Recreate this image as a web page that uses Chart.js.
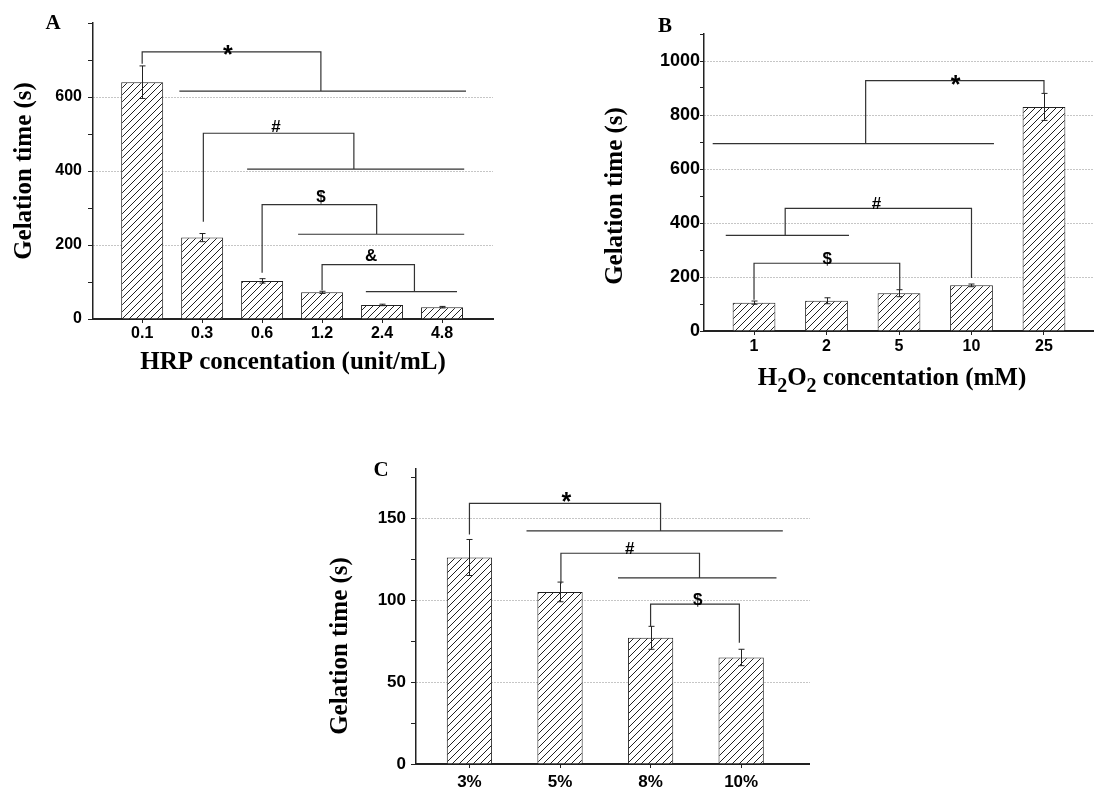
<!DOCTYPE html>
<html>
<head>
<meta charset="utf-8">
<script src="https://cdn.jsdelivr.net/npm/chart.js@4.4.1/dist/chart.umd.min.js"></script>
<style>
  body { margin: 0; background: #fff; width: 1094px; height: 792px; position: relative; overflow: hidden; }
  canvas { position: absolute; }
</style>
</head>
<body>
<canvas id="chartA" width="500" height="400" style="left:0px;top:0px"></canvas>
<canvas id="chartB" width="504" height="400" style="left:590px;top:0px"></canvas>
<canvas id="chartC" width="510" height="352" style="left:300px;top:440px"></canvas>
<script>
// A: HRP concentration
const hrpLabels = ['0.1', '0.3', '0.6', '1.2', '2.4', '4.8'];
const hrpTimes = [640, 220, 103, 72, 38, 32];
const hrpErrors = [44, 11, 6, 3, 2, 2];
// significance brackets: top value, left end (x, y), right end (x, y), optional group line [x1, x2, y], symbol centre
const hrpBrackets = [
    { sym: '*', top: 722, a: [1, 690], b: [3.98, 616], group: [1.62, 6.4, 616], s: [2.43, 730] },
    { sym: '#', top: 502, a: [2.02, 263], b: [4.53, 405], group: [2.75, 6.37, 405], s: [3.23, 522] },
    { sym: '$', top: 309, a: [3, 125], b: [4.91, 229], group: [3.6, 6.37, 229], s: [3.98, 332] },
    { sym: '&', top: 147, a: [4, 78], b: [5.54, 74], group: [4.73, 6.25, 74], s: [4.82, 173] }
];

// B: H2O2 concentration
const h2o2Labels = ['1', '2', '5', '10', '25'];
const h2o2Times = [105, 112, 140, 169, 830];
const h2o2Errors = [6, 11, 13, 5, 50];
const h2o2Brackets = [
    { sym: '*', top: 927, a: [2.54, 694], b: [5, 881], group: [0.43, 4.31, 694], s: [3.78, 934] },
    { sym: '#', top: 454, a: [1.43, 354], b: [4, 196], group: [0.61, 2.31, 354], s: [2.69, 475] },
    { sym: '$', top: 251, a: [1, 116], b: [3.01, 151], group: null, s: [2.01, 271] }
];

// C: polymer content
const polyLabels = ['3%', '5%', '8%', '10%'];
const polyTimes = [126, 105, 77, 65];
const polyErrors = [11, 6, 7, 5];
const polyBrackets = [
    { sym: '*', top: 159, a: [1, 140], b: [3.11, 142.3], group: [1.63, 4.46, 142.3], s: [2.07, 163.6] },
    { sym: '#', top: 128.6, a: [2.01, 110], b: [3.54, 113.6], group: [2.64, 4.39, 113.6], s: [2.77, 131.7] },
    { sym: '$', top: 97.6, a: [3, 84], b: [3.98, 74], group: null, s: [3.52, 100.9] }
];

const SANS = '"Liberation Sans", Arial, sans-serif';
const SERIF = '"Liberation Serif", "Times New Roman", serif';

function makeHatch() {
    const n = 7;
    const c = document.createElement('canvas');
    c.width = n; c.height = n;
    const g = c.getContext('2d');
    g.fillStyle = '#fff';
    g.fillRect(0, 0, n, n);
    g.strokeStyle = '#222';
    g.lineWidth = 1;
    g.beginPath();
    g.moveTo(0, n); g.lineTo(n, 0);
    g.moveTo(-1, 1); g.lineTo(1, -1);
    g.moveTo(n - 1, n + 1); g.lineTo(n + 1, n - 1);
    g.stroke();
    return g.createPattern(c, 'repeat');
}
const hatch = makeHatch();

function drawText(ctx, t) {
    ctx.save();
    ctx.translate(t.x, t.y);
    if (t.rot) ctx.rotate(t.rot);
    ctx.fillStyle = '#000';
    ctx.textBaseline = t.baseline || 'alphabetic';
    const segs = t.segs || [[t.text, 0]];
    const font = (s, sub) => 'bold ' + (sub ? s * 0.8 : s) + 'px ' + (t.family || SERIF);
    let total = 0;
    segs.forEach(([str, sub]) => { ctx.font = font(t.size, sub); total += ctx.measureText(str).width; });
    let x = -total / 2;
    ctx.textAlign = 'left';
    segs.forEach(([str, sub]) => {
        ctx.font = font(t.size, sub);
        ctx.fillText(str, x, sub ? t.size * 0.28 : 0);
        x += ctx.measureText(str).width;
    });
    ctx.restore();
}

const extrasPlugin = {
    id: 'extras',
    afterDatasetsDraw(chart, args, opts) {
        const { ctx } = chart;
        const xs = chart.scales.x, ys = chart.scales.y;
        const px = v => xs.getPixelForValue(v);
        const py = v => ys.getPixelForValue(v);
        ctx.save();
        // error bars
        ctx.strokeStyle = '#222';
        ctx.lineWidth = 1;
        opts.values.forEach((v, i) => {
            const x = Math.round(px(i + 1)) + 0.5;
            const e = opts.errors[i];
            const y1 = py(v + e), y2 = py(v - e);
            ctx.beginPath();
            ctx.moveTo(x, y1); ctx.lineTo(x, y2);
            ctx.moveTo(x - 3, y1); ctx.lineTo(x + 3, y1);
            ctx.moveTo(x - 3, y2); ctx.lineTo(x + 3, y2);
            ctx.stroke();
        });
        // significance brackets
        ctx.strokeStyle = '#333';
        ctx.lineWidth = 1.2;
        opts.brackets.forEach(b => {
            const yt = py(b.top);
            ctx.beginPath();
            ctx.moveTo(px(b.a[0]), py(b.a[1]));
            ctx.lineTo(px(b.a[0]), yt);
            ctx.lineTo(px(b.b[0]), yt);
            ctx.lineTo(px(b.b[0]), py(b.b[1]));
            if (b.group) {
                ctx.moveTo(px(b.group[0]), py(b.group[2]));
                ctx.lineTo(px(b.group[1]), py(b.group[2]));
            }
            ctx.stroke();
            const size = b.sym === '*' ? 25 : 17;
            const off = b.sym === '*' ? 0.55 * size : 0.36 * size;
            ctx.fillStyle = '#000';
            ctx.font = 'bold ' + size + 'px ' + SANS;
            ctx.textAlign = 'center';
            ctx.textBaseline = 'alphabetic';
            ctx.fillText(b.sym, px(b.s[0]), py(b.s[1]) + off);
        });
        ctx.restore();
    },
    afterDraw(chart, args, opts) {
        opts.texts.forEach(t => drawText(chart.ctx, t));
    }
};

function yAxis(cfg) {
    const major = v => v % cfg.labelStep === 0 && v < cfg.max;
    return {
        min: 0,
        max: cfg.max,
        ticks: {
            stepSize: cfg.step,
            autoSkip: false,
            includeBounds: false,
            padding: cfg.pad,
            color: '#000',
            font: { family: SANS, weight: 'bold', size: cfg.font },
            callback: v => (major(v) ? v : '')
        },
        grid: {
            color: c => (c.tick && major(c.tick.value) && c.tick.value > 0) ? '#8c8c8c' : 'rgba(0,0,0,0)',
            lineWidth: 1,
            tickColor: '#222',
            tickLength: cfg.tick
        },
        border: { color: '#222', width: 1.5, dash: [1, 2] },
        afterFit: s => { s.width = cfg.width; }
    };
}

function xAxis(cfg) {
    return {
        type: 'linear',
        min: cfg.min,
        max: cfg.max,
        offset: false,
        ticks: {
            stepSize: 1,
            autoSkip: false,
            includeBounds: false,
            maxRotation: 0,
            padding: cfg.pad,
            color: '#000',
            font: { family: SANS, weight: 'bold', size: cfg.font },
            callback: v => cfg.labels[v - 1] || ''
        },
        grid: { drawOnChartArea: false, offset: false, tickLength: 4, tickColor: '#222' },
        border: { color: '#222', width: 2 },
        afterFit: s => { s.height = cfg.height; }
    };
}

function makeChart(id, values, errors, brackets, barPct, x, y, pad, texts) {
    return new Chart(document.getElementById(id), {
        type: 'bar',
        data: {
            datasets: [{
                data: values.map((v, i) => ({ x: i + 1, y: v })),
                backgroundColor: hatch,
                borderColor: '#222',
                borderWidth: 1,
                borderSkipped: 'start',
                barPercentage: barPct,
                categoryPercentage: 1
            }]
        },
        options: {
            responsive: false,
            animation: false,
            layout: { padding: pad },
            scales: { x: xAxis(x), y: yAxis(y) },
            plugins: {
                legend: { display: false },
                tooltip: { enabled: false },
                extras: { values, errors, brackets, texts }
            }
        },
        plugins: [extrasPlugin]
    });
}

const up = -Math.PI / 2;

makeChart('chartA', hrpTimes, hrpErrors, hrpBrackets, 0.7,
    { min: 0.18, max: 6.85, labels: hrpLabels, font: 16, pad: 1, height: 81 },
    { max: 800, step: 100, labelStep: 200, font: 16, pad: 6, tick: 5, width: 93 },
    { top: 23, right: 7, left: 0, bottom: 0 },
    [
        { text: 'A', x: 53, y: 29, size: 21 },
        { text: 'Gelation time (s)', x: 31, y: 171, rot: up, size: 25 },
        { text: 'HRP concentation (unit/mL)', x: 293, y: 369, size: 25 }
    ]);

makeChart('chartB', h2o2Times, h2o2Errors, h2o2Brackets, 0.59,
    { min: 0.31, max: 5.69, labels: h2o2Labels, font: 16, pad: 2, height: 69 },
    { max: 1100, step: 100, labelStep: 200, font: 18, pad: 0, tick: 4, width: 114 },
    { top: 34, right: 0, left: 0, bottom: 0 },
    [
        { text: 'B', x: 75, y: 32, size: 21 },
        { text: 'Gelation time (s)', x: 32, y: 196, rot: up, size: 25 },
        { segs: [['H', 0], ['2', 1], ['O', 0], ['2', 1], [' concentation (mM)', 0]], x: 302, y: 385, size: 25 }
    ]);

makeChart('chartC', polyTimes, polyErrors, polyBrackets, 0.5,
    { min: 0.41, max: 4.76, labels: polyLabels, font: 17, pad: 4, height: 28 },
    { max: 180, step: 25, labelStep: 50, font: 17, pad: 5, tick: 5, width: 116 },
    { top: 29, right: 0, left: 0, bottom: 0 },
    [
        { text: 'C', x: 81, y: 36, size: 21 },
        { text: 'Gelation time (s)', x: 47, y: 206, rot: up, size: 25 }
    ]);
</script>
</body>
</html>
